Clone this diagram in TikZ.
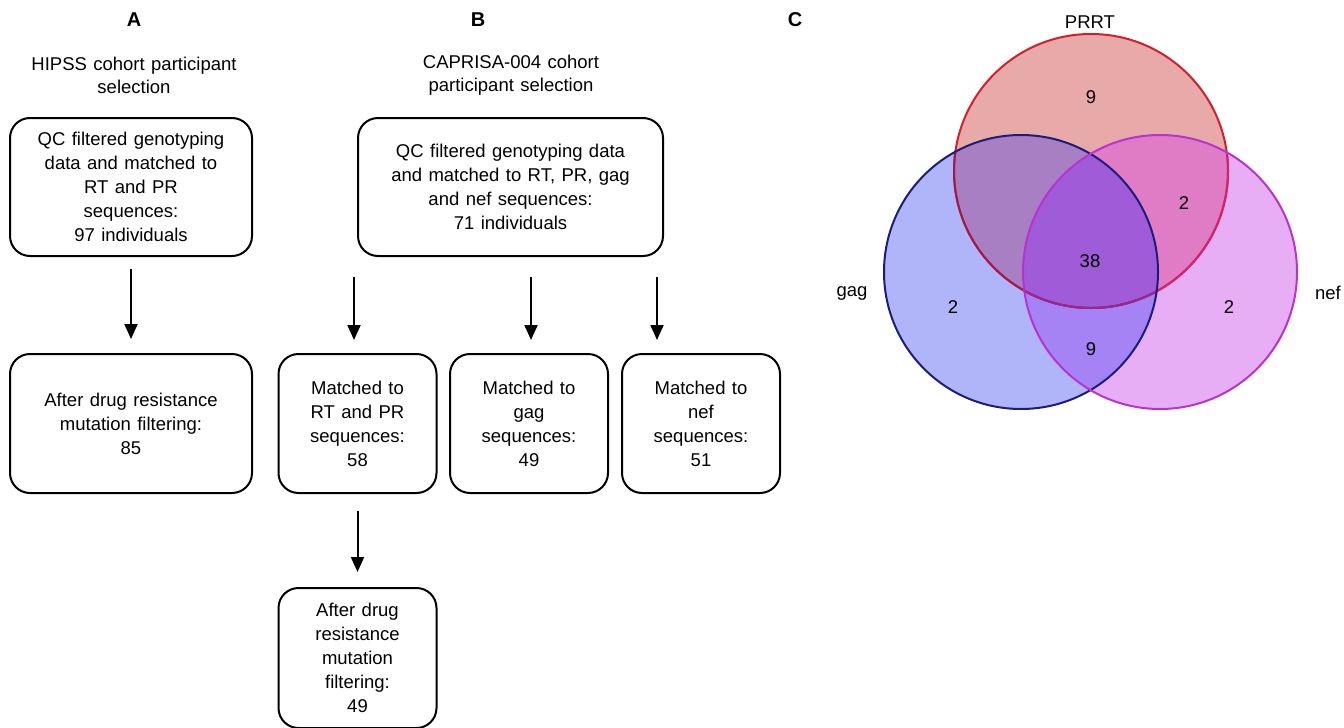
\documentclass[tikz,border=0pt]{standalone}
\usepackage{fontspec}
\setmainfont[WordSpace={1.25,0.5,0.3}]{Liberation Sans}
\usetikzlibrary{arrows.meta}
\definecolor{redfill}{HTML}{E8A9A9}
\definecolor{bluefill}{HTML}{B0B4F8}
\definecolor{magfill}{HTML}{E8AEF5}
\definecolor{rbfill}{HTML}{A87FC2}
\definecolor{rmfill}{HTML}{E07CC5}
\definecolor{bmfill}{HTML}{A583F5}
\definecolor{allfill}{HTML}{A05CD8}
\definecolor{redline}{HTML}{D41F2A}
\definecolor{redlineb}{HTML}{9C1C4E}
\definecolor{redlinem}{HTML}{D42270}
\definecolor{redlinebm}{HTML}{8E2A9A}
\definecolor{blueline}{HTML}{1C1C7C}
\definecolor{magline}{HTML}{B832D2}
\begin{document}
\begin{tikzpicture}[x=1pt,y=-1pt,
  box/.style={draw=black, line width=2pt, rounded corners=20pt, align=center,
    font=\fontsize{18.5}{24}\selectfont, inner sep=0pt},
  lbl/.style={font=\fontsize{18.5}{23}\selectfont, align=center, inner sep=0pt},
  ttl/.style={font=\fontsize{20}{24}\selectfont\bfseries, inner sep=0pt},
  arr/.style={draw=black, line width=2pt, -{Triangle[width=13pt,length=15pt]}},
  vline/.style={line width=2pt},
]
\useasboundingbox (0,0) rectangle (1344,728);

% ---------- Panel A ----------
\node[ttl] (ta) at (134,20) {A};
\node[lbl] (sa) at (134,75) {HIPSS cohort participant\\selection};
\node[box, minimum width=242pt, minimum height=138pt] (a1) at (131,187)
  {QC filtered genotyping\\data and matched to\\RT and PR\\sequences:\\97 individuals};
\node[box, minimum width=242pt, minimum height=139pt] (a2) at (131,423.5)
  {After drug resistance\\mutation filtering:\\85};
\draw[arr, shorten <=12pt, shorten >=14pt] (a1) -- (a2);

% ---------- Panel B ----------
\node[ttl] (tb) at (478,20) {B};
\node[lbl] (sb) at (511,75) {CAPRISA-004 cohort\\participant selection};
\node[box, minimum width=305pt, minimum height=138pt] (b1) at (510.5,187)
  {QC filtered genotyping data\\and matched to RT, PR, gag\\and nef sequences:\\71 individuals};
\node[box, minimum width=158pt, minimum height=139pt] (rt) at (357.5,423.5)
  {Matched to\\RT and PR\\sequences:\\58};
\node[box, minimum width=158pt, minimum height=139pt] (gg) at (529,423.5)
  {Matched to\\gag\\sequences:\\49};
\node[box, minimum width=158pt, minimum height=139pt] (nf) at (701,423.5)
  {Matched to\\nef\\sequences:\\51};
\node[box, minimum width=158pt, minimum height=140pt] (dr) at (357.5,658)
  {After drug\\resistance\\mutation\\filtering:\\49};
\coordinate (s1) at (354,256);
\coordinate (e1) at (354,354);
\coordinate (s2) at (531,256);
\coordinate (e2) at (531,354);
\coordinate (s3) at (657,256);
\coordinate (e3) at (657,354);
\draw[arr, shorten <=21pt, shorten >=14pt] (s1) -- (e1);
\draw[arr, shorten <=21pt, shorten >=14pt] (s2) -- (e2);
\draw[arr, shorten <=21pt, shorten >=14pt] (s3) -- (e3);
\draw[arr, shorten <=17pt, shorten >=15pt] (rt) -- (dr);

% ---------- Panel C (Venn) ----------
\node[ttl] (tc) at (795,20) {C};
\def\cR{(1091,171) circle[radius=137pt]}
\def\cB{(1021,272) circle[radius=137pt]}
\def\cM{(1160,272) circle[radius=137pt]}
\fill[redfill] \cR;
\fill[bluefill] \cB;
\fill[magfill] \cM;
\begin{scope}\clip \cR; \fill[rbfill] \cB; \end{scope}
\begin{scope}\clip \cR; \fill[rmfill] \cM; \end{scope}
\begin{scope}\clip \cB; \fill[bmfill] \cM; \end{scope}
\begin{scope}\clip \cR; \clip \cB; \fill[allfill] \cM; \end{scope}
% outlines
\draw[vline, redline] \cR;
\begin{scope}\clip \cB; \draw[vline, redlineb] \cR; \end{scope}
\begin{scope}\clip \cM; \draw[vline, redlinem] \cR; \end{scope}
\begin{scope}\clip \cB; \clip \cM; \draw[vline, redlinebm] \cR; \end{scope}
\draw[vline, blueline] \cB;
\draw[vline, magline] \cM;
% labels
\node[lbl] (lp) at (1090,22) {PRRT};
\node[lbl] (lg) at (852,293) {gag};
\node[lbl] (ln) at (1328,293) {nef};
\node[lbl] (n1) at (1091,97) {9};
\node[lbl] (n2) at (1184,203) {2};
\node[lbl] (n3) at (1090,261) {38};
\node[lbl] (n4) at (953,307) {2};
\node[lbl] (n5) at (1229,307) {2};
\node[lbl] (n6) at (1091,349) {9};
\end{tikzpicture}
\end{document}
